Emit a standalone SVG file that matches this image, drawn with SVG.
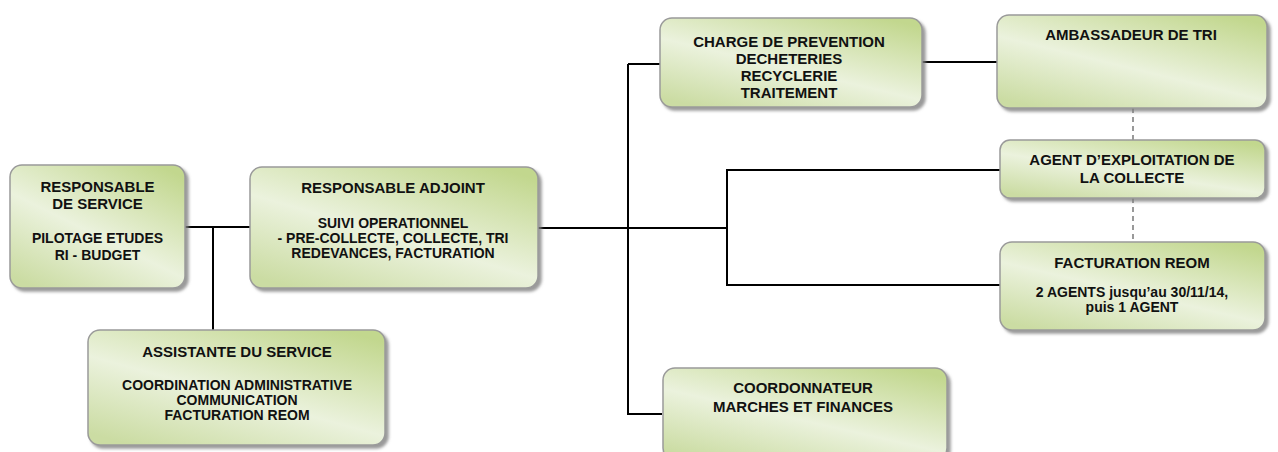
<svg xmlns="http://www.w3.org/2000/svg" width="1278" height="452" viewBox="0 0 1278 452">
<defs>
<linearGradient id="g" x1="0.85" y1="0" x2="0.15" y2="1">
<stop offset="0" stop-color="#c2d78e"/>
<stop offset="0.55" stop-color="#ebf2dd"/>
<stop offset="1" stop-color="#cbdca3"/>
</linearGradient>
<filter id="sh" x="-10%" y="-10%" width="130%" height="140%">
<feDropShadow dx="3" dy="3" stdDeviation="1.5" flood-color="#808080" flood-opacity="0.8"/>
</filter>
</defs>
<style>
.box{fill:url(#g);stroke:#9a9a9a;stroke-width:1.5;filter:url(#sh)}
.t{font-family:"Liberation Sans",Arial,sans-serif;font-weight:bold;font-size:15px;fill:#111;text-anchor:middle}
.b{font-family:"Liberation Sans",Arial,sans-serif;font-weight:bold;font-size:14px;fill:#111;text-anchor:middle}
.c{fill:none;stroke:#000;stroke-width:2}
.d{fill:none;stroke:#999;stroke-width:2;stroke-dasharray:5 4}
</style>
<rect width="1278" height="452" fill="#fff"/>
<g id="connectors">
<path class="c" d="M185 227H250M213 227V330"/>
<path class="c" d="M538 228H727M628 64H660M628 64V414H662"/>
<path class="c" d="M922 62H997"/>
<path class="c" d="M727 228V170H1000M727 228V285H1000"/>
<path class="d" d="M1133 108V140M1133 198V242"/>
</g>
<g id="n1">
<rect class="box" x="10" y="165" width="175" height="123" rx="12"/>
<text class="t" x="97.5" y="192">RESPONSABLE</text>
<text class="t" x="97.5" y="209">DE SERVICE</text>
<text class="b" x="97.5" y="243">PILOTAGE ETUDES</text>
<text class="b" x="97.5" y="260">RI - BUDGET</text>
</g>
<g id="n2">
<rect class="box" x="250" y="167" width="288" height="121" rx="12"/>
<text class="t" x="393" y="193">RESPONSABLE ADJOINT</text>
<text class="b" x="393" y="228">SUIVI OPERATIONNEL</text>
<text class="b" x="393" y="243">- PRE-COLLECTE, COLLECTE, TRI</text>
<text class="b" x="393" y="258">REDEVANCES, FACTURATION</text>
</g>
<g id="n3">
<rect class="box" x="88" y="330" width="297" height="115" rx="12"/>
<text class="t" x="237" y="357">ASSISTANTE DU SERVICE</text>
<text class="b" x="237" y="390">COORDINATION ADMINISTRATIVE</text>
<text class="b" x="237" y="405">COMMUNICATION</text>
<text class="b" x="237" y="420">FACTURATION REOM</text>
</g>
<g id="n4">
<rect class="box" x="660" y="18" width="262" height="89" rx="12"/>
<text class="t" x="789" y="47">CHARGE DE PREVENTION</text>
<text class="t" x="789" y="64">DECHETERIES</text>
<text class="t" x="789" y="81">RECYCLERIE</text>
<text class="t" x="789" y="98">TRAITEMENT</text>
</g>
<g id="n5">
<rect class="box" x="997" y="15" width="270" height="93" rx="12"/>
<text class="t" x="1131" y="40">AMBASSADEUR DE TRI</text>
</g>
<g id="n6">
<rect class="box" x="1000" y="140" width="265" height="58" rx="10"/>
<text class="t" x="1132" y="165">AGENT D’EXPLOITATION DE</text>
<text class="t" x="1132" y="183">LA COLLECTE</text>
</g>
<g id="n7">
<rect class="box" x="1000" y="242" width="265" height="88" rx="12"/>
<text class="t" x="1132" y="268">FACTURATION REOM</text>
<text class="b" x="1132" y="297">2 AGENTS jusqu’au 30/11/14,</text>
<text class="b" x="1132" y="312">puis 1 AGENT</text>
</g>
<g id="n8">
<rect class="box" x="663" y="368" width="284" height="92" rx="12"/>
<text class="t" x="803" y="393">COORDONNATEUR</text>
<text class="t" x="803" y="412">MARCHES ET FINANCES</text>
</g>
</svg>
